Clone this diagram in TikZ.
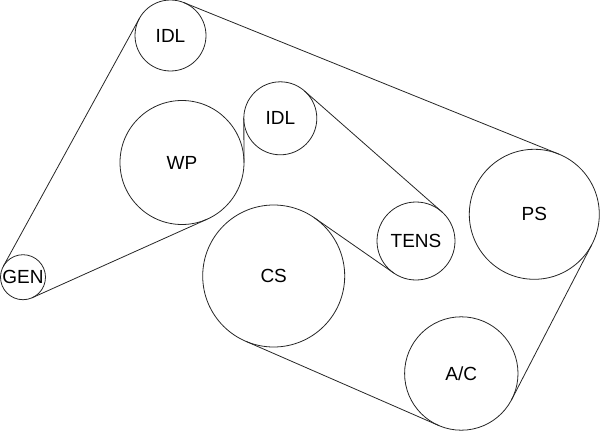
\documentclass[tikz,border=0pt]{standalone}
\usepackage{fontspec}
\setmainfont{Liberation Sans}
\tikzset{
  pulley/.style={draw=black!85,circle,line width=0.8pt,inner sep=0pt,outer sep=0pt,font=\fontsize{19}{21}\selectfont},
  belt/.style={draw=black!85,line width=0.8pt,line cap=round}
}
\begin{document}
\begin{tikzpicture}[x=1pt,y=-1pt]
\useasboundingbox (0,0) rectangle (600,431);
\node[pulley,minimum size=71pt] (idla) at (170.5,35.5) {IDL};
\node[pulley,minimum size=124pt] (wp) at (182,162.5) {WP};
\node[pulley,minimum size=73pt] (idlb) at (280.3,118.3) {IDL};
\node[pulley,minimum size=45pt] (gen) at (23,277.2) {GEN};
\node[pulley,minimum size=142pt] (cs) at (273.7,276) {CS};
\node[pulley,minimum size=78pt] (tens) at (416,241) {TENS};
\node[pulley,minimum size=130pt] (ps) at (534.3,214.3) {PS};
\node[pulley,minimum size=113.4pt] (ac) at (461.3,373.5) {A/C};
\draw[belt] (idla.151.2) -- (gen.151.2);
\draw[belt] (idla.68) -- (ps.68);
\draw[belt] (idlb.48.7) -- (tens.48.7);
\draw[belt] (idlb.180.5) -- (wp.0.5);
\draw[belt] (cs.55.1) -- (tens.235.1);
\draw[belt] (cs.-113.6) -- (ac.-113.6);
\draw[belt] (ps.332.7) -- (ac.332.7);
\draw[belt] (wp.294.2) -- (gen.294.2);
\end{tikzpicture}
\end{document}
